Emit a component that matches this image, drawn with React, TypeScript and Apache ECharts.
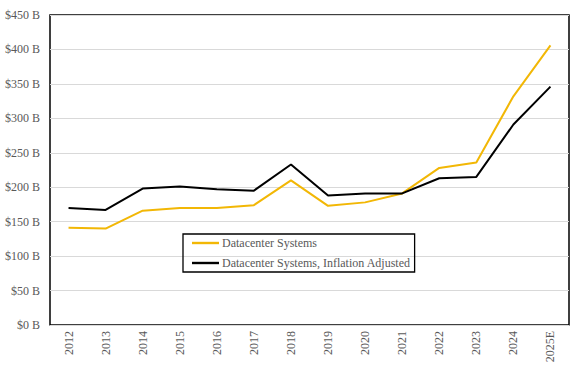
import React, { useEffect, useRef } from "react";
import * as echarts from "echarts";

const categories = ["2012", "2013", "2014", "2015", "2016", "2017", "2018", "2019", "2020", "2021", "2022", "2023", "2024", "2025E"];
const datacenterSystems = [141, 140, 166, 170, 170, 174, 210, 173, 178, 191, 228, 236, 332, 406];
const inflationAdjusted = [170, 167, 198, 201, 197, 195, 233, 188, 191, 191, 213, 215, 291, 346];
const yTicks = { min: 0, max: 450, interval: 50 };

export default function App() {
  const ref = useRef<HTMLDivElement>(null);
  useEffect(() => {
    if (!ref.current) return;
    const chart = echarts.init(ref.current, undefined, { renderer: "svg" });
    const font = "'Liberation Serif', 'Times New Roman', serif";
    const lineIcon = "path://M0,0h27v2.4h-27z";
    chart.setOption({
      animation: false,
      backgroundColor: "#ffffff",
      textStyle: { fontFamily: font },
      grid: {
        left: 50,
        right: 14,
        top: 15,
        bottom: 42,
        show: true,
        borderColor: "#000000",
        borderWidth: 1.5,
        backgroundColor: "transparent",
      },
      legend: {
        orient: "vertical",
        left: 183,
        top: 234,
        borderColor: "#000000",
        borderWidth: 1.3,
        padding: [3, 4, 3, 9],
        itemGap: 8,
        itemWidth: 27,
        itemHeight: 14,
        symbolKeepAspect: true,
        textStyle: { fontFamily: font, fontSize: 12, color: "#595959", padding: [0, 0, 0, -2] },
        data: [
          { name: "Datacenter Systems", icon: lineIcon },
          { name: "Datacenter Systems, Inflation Adjusted", icon: lineIcon },
        ],
      },
      xAxis: {
        type: "category",
        data: categories,
        boundaryGap: true,
        axisLine: { show: true, lineStyle: { color: "#d9d9d9", width: 1 } },
        axisTick: { show: false },
        axisLabel: { rotate: 90, fontFamily: font, fontSize: 12, color: "#595959", margin: 6, interval: 0 },
      },
      yAxis: {
        type: "value",
        min: yTicks.min,
        max: yTicks.max,
        interval: yTicks.interval,
        axisLine: { show: false },
        axisTick: { show: false },
        splitLine: { lineStyle: { color: "#d9d9d9", width: 1 } },
        axisLabel: {
          fontFamily: font,
          fontSize: 12,
          color: "#595959",
          margin: 10,
          formatter: (v: number) => "$" + v + " B",
        },
      },
      series: [
        {
          name: "Datacenter Systems",
          type: "line",
          data: datacenterSystems,
          symbol: "none",
          lineStyle: { color: "#F2B705", width: 2 },
          itemStyle: { color: "#F2B705" },
          z: 3,
        },
        {
          name: "Datacenter Systems, Inflation Adjusted",
          type: "line",
          data: inflationAdjusted,
          symbol: "none",
          lineStyle: { color: "#000000", width: 2 },
          itemStyle: { color: "#000000" },
          z: 4,
        },
      ],
    });
    return () => chart.dispose();
  }, []);
  return <div ref={ref} style={{ position: "fixed", left: 0, top: 0, width: 583, height: 367 }} />;
}
